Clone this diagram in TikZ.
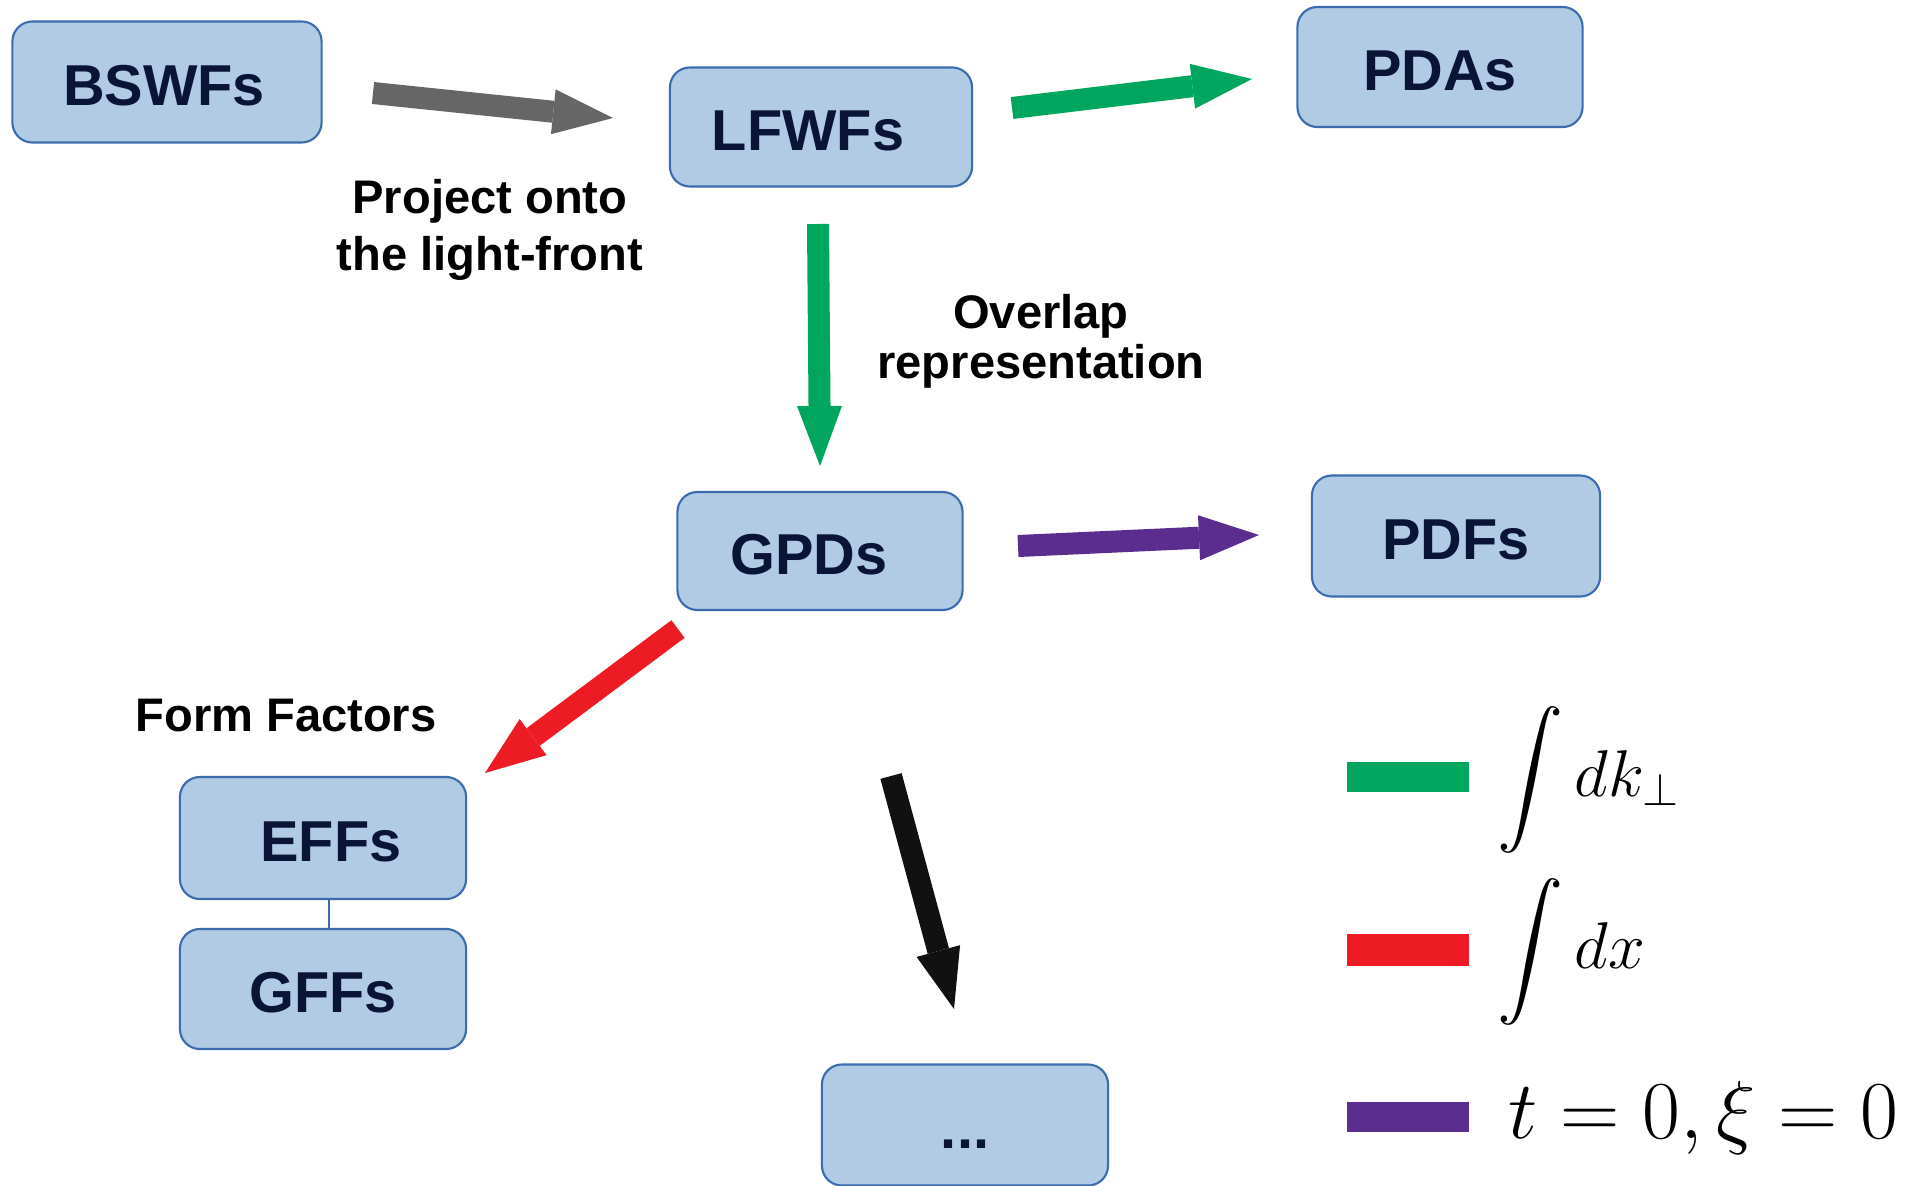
\documentclass[tikz,border=0pt]{standalone}
\usepackage{fix-cm}
\usepackage{exscale}
\usepackage{fontspec}
\setmainfont{Liberation Sans}
\usetikzlibrary{arrows.meta}
% large symbols scale freely with the font size
\DeclareFontShape{OMX}{cmex}{m}{n}{<->cmex10}{}

\definecolor{boxfill}{HTML}{B0CBE3}
\definecolor{boxline}{HTML}{3D6CAE}
\definecolor{boxtext}{HTML}{0A1437}
\definecolor{arrgray}{HTML}{666666}
\definecolor{arrgreen}{HTML}{00A65D}
\definecolor{arrpurple}{HTML}{5B2D8E}
\definecolor{arrred}{HTML}{ED1C24}
\definecolor{arrblack}{HTML}{111111}

% display-size integral sign taken straight from cmex
\newcommand{\bigintsign}{\mathop{\mathchar"135A}\nolimits}

\tikzset{
  qbox/.style={draw=boxline, fill=boxfill, line width=0.6pt, rounded corners=0.2cm,
    inner sep=0pt, minimum width=2.86cm, minimum height=1.2cm, text=boxtext,
    font=\fontsize{16.4}{20}\selectfont\bfseries, text height=13.4pt, text depth=0pt},
  note/.style={font=\fontsize{13.4}{#1}\selectfont\bfseries, text=black,
    inner sep=0pt, align=center},
  note/.default=16.2pt,
  fat/.style={line width=0.22cm, -{Triangle[length=0.6cm,width=0.45cm,line width=0pt]}},
  legend/.style={inner sep=0pt, anchor=base west}
}

\begin{document}
\begin{tikzpicture}[x=0.01cm, y=-0.01cm]
  % canvas
  \fill[white] (0,0) rectangle (1922,1185);
  \useasboundingbox (0,0) rectangle (1922,1185);

  % quantities
  \node[qbox, minimum width=3.09cm, minimum height=1.21cm] (bswf) at (167,82) {\hspace*{-0.06cm}BSWFs};
  \node[qbox, minimum width=3.02cm, minimum height=1.19cm] (lfwf) at (821,127) {\hspace*{-0.26cm}LFWFs};
  \node[qbox, minimum width=2.85cm] (pda) at (1440,67) {PDAs};
  \node[qbox, minimum width=2.85cm, minimum height=1.18cm] (gpd) at (820,551) {\hspace*{-0.22cm}GPDs};
  \node[qbox, minimum width=2.88cm, minimum height=1.21cm] (pdf) at (1456,536) {PDFs};
  \node[qbox, minimum height=1.22cm] (effs) at (323,838) {\hspace*{0.16cm}EFFs};
  \node[qbox] (gffs) at (323,989) {GFFs};
  \node[qbox, minimum height=1.21cm] (more) at (965,1125) {...};

  % link between the two form factor boxes
  \draw[boxline, line width=0.6pt] ([xshift=0.06cm]effs.south) -- ([xshift=0.06cm]gffs.north);

  % labels (base anchor sits on the last line)
  \node[note, anchor=base] (proj) at (490,270) {Project onto\\the light-front};
  \node[note=14.2pt, anchor=base] (ovl) at (1041,378) {Overlap\\representation};
  \node[note, anchor=base] (ff) at (286,731) {Form Factors};

  % arrow end points
  \coordinate (a1s) at (373,93);   \coordinate (a1e) at (613,118);
  \coordinate (a2s) at (1012,108); \coordinate (a2e) at (1252,79);
  \coordinate (a3s) at (818,224);  \coordinate (a3e) at (820,466);
  \coordinate (a4s) at (1018,546); \coordinate (a4e) at (1259,535);
  \coordinate (a5s) at (678,629);  \coordinate (a5e) at (485,773);
  \coordinate (a6s) at (891,776);  \coordinate (a6e) at (954,1009);

  % arrows
  \draw[fat, arrgray]   (a1s) -- (a1e);
  \draw[fat, arrgreen]  (a2s) -- (a2e);
  \draw[fat, arrgreen]  (a3s) -- (a3e);
  \draw[fat, arrpurple] (a4s) -- (a4e);
  \draw[fat, arrred]    (a5s) -- (a5e);
  \draw[fat, arrblack]  (a6s) -- (a6e);

  % legend
  \fill[arrgreen]  (1347,762)  rectangle (1469,792);
  \fill[arrred]    (1347,934)  rectangle (1469,966);
  \fill[arrpurple] (1347,1102) rectangle (1469,1132);
  \node[legend, font=\fontsize{18.8}{22}\selectfont] (lk) at (1497,796) {$\bigintsign dk_\perp$};
  \node[legend, font=\fontsize{18.8}{22}\selectfont] (lx) at (1497,968) {$\bigintsign dx$};
  \node[legend, font=\fontsize{23.4}{28}\selectfont] (lt) at (1508,1138) {$t=0,\xi=0$};
\end{tikzpicture}
\end{document}
